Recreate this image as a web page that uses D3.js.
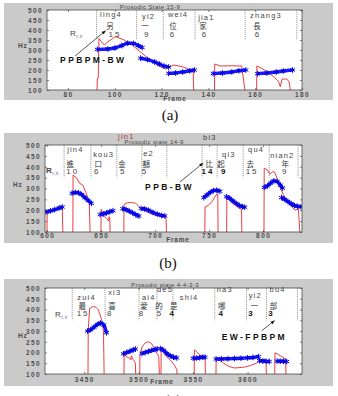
<!DOCTYPE html>
<html>
<meta charset="utf-8">
<style>
body { margin: 0; background: #fff; }
svg { display: block; }
.tick text { font-family: "Liberation Sans", Arial, sans-serif; font-size: 6.5px; font-weight: bold; fill: #4d4d4d; letter-spacing: 1.4px; }
.ttl { font-family: "Liberation Sans", Arial, sans-serif; font-size: 6px; fill: #444; letter-spacing: 0.4px; }
.axlab { font-family: "Liberation Sans", Arial, sans-serif; font-size: 6.5px; font-weight: bold; fill: #4d4d4d; letter-spacing: 0.8px; }
.py { font-family: "Liberation Sans", Arial, sans-serif; font-size: 7.5px; fill: #444; letter-spacing: 1.2px; }
.zh { font-family: "Noto Sans CJK TC", sans-serif; font-size: 7.5px; fill: #333; }
.rk { font-family: "Liberation Sans", Arial, sans-serif; font-size: 8px; fill: #444; letter-spacing: 2px; }
.rk.bold { font-weight: bold; fill: #111; }
.note { font-family: "Liberation Sans", Arial, sans-serif; font-size: 8.5px; font-weight: bold; fill: #111; letter-spacing: 2.4px; }
.cap { font-family: "Liberation Serif", "DejaVu Serif", serif; font-size: 15px; fill: #111; }
</style>
<body>
<svg width="338" height="396"></svg>
<script src="https://cdn.jsdelivr.net/npm/d3@7"></script>
<script>

var hzTicks = [100, 150, 200, 250, 300, 350, 400, 450, 500];

// ---- panel (a): Prosodic State 15-9
var aFrameTicks = [80, 100, 120, 140, 160, 180];
var aBounds = [92.2, 109.3, 120.7, 134.3, 155.7, 177.8];
var aPinyin = ["ling4", "yi2", "wei4", "jia1", "zhang3"];
var aPinyinAt = [93.7, 111.6, 122.7, 135.6, 157.8];
var aChars = ["另", "一", "位", "家", "長"];
var aCharAt = [97.9, 112.9, 124.9, 137.7, 160.8];
var aRanks = ["15", "9", "6", "6", "6"];
var aRankAt = [100.1, 113.8, 124.9, 138.5, 161.2];
var aBlue = [
  [[92.5,303],[97,305],[100,310],[103,322],[105.5,334],[108,333],[110,322],[111.7,312]],
  [[111,259],[114,252],[117,240],[119,230],[121,220],[123,215]],
  [[123,183],[126,185],[129,190],[132,196],[134,200]],
  [[142,182],[146,185],[150,190],[153,196],[156,200]],
  [[161,182],[165,185],[169,190],[172,195],[176,200]]
];
var aRed = [
  [[92.4,100],[92.5,158],[92.9,160],[93.2,358],[95.4,325],[97.5,345],[100.3,367],[104,350],[107.4,325],[111.7,283],[116,242],[119.5,217],[121.6,205],[125.2,225],[128.7,217],[132.3,200],[133.5,195],[133.7,100]],
  [[142.6,100],[142.7,230],[145,220],[150,221],[154.2,220],[155.6,100]],
  [[160.6,100],[160.7,220],[162.8,208],[165,192],[167.8,167],[170,142],[170.7,117],[171.5,155],[173.5,155],[174.5,140],[175,100]]
];

// ---- panel (b): Prosodic state 14-9
var bFrameTicks = [600, 650, 700, 750, 800];
var bBounds = [615.7, 640.5, 664.5, 687.7, 710.8, 743.5, 757.4, 781.5, 805.6, 832.4];
var bPinyin = ["jin4", "kou3", "jin1", "e2", "bi3", "qi3", "qu4", "nian2"];
var bPinyinAt = [618.5, 642.6, 665.7, 688.9, 744.4, 762, 786.1, 806.5];
var bChars = ["進", "口", "金", "額", "比", "起", "去", "年"];
var bCharAt = [621.3, 647.2, 669.4, 691.7, 750, 761.1, 788, 820.4];
var bRanks = ["10", "6", "5", "5", "14", "9", "15", "9"];
var bRankAt = [623.6, 646.3, 670.4, 690.7, 749, 763.9, 789.8, 820.4];
var bBlue = [
  [[599,192],[603,197],[607,203],[611,210],[614,215]],
  [[623,278],[626,282],[629,280],[632,272],[635,258],[638,245],[641,232]],
  [[649,180],[652,183],[655,188],[658,193],[661,198]],
  [[670,207],[673,203],[676,196],[679,188],[682,180],[685,173]],
  [[687,208],[690,206],[694,200],[698,190],[702,182],[706,176],[709,174]],
  [[745,258],[748,270],[751,282],[754,290],[757,292],[760,287]],
  [[766,262],[769,255],[772,243],[775,232],[778,222],[781,216],[783,214]],
  [[801,305],[804,312],[807,325],[810,335],[813,332],[816,315],[818,302]],
  [[817,258],[820,250],[823,240],[826,230],[829,222],[832,218],[835,216]]
];
var bRed = [
  [[599.8,100],[600,175],[601,198],[605,202],[610,208],[614,214],[614.5,100]],
  [[623.8,100],[624,362],[627.5,347],[630,324],[633,316],[636,280],[639,232],[639.8,100]],
  [[649.8,100],[650,205],[653,170],[655,163],[657,150],[657.2,170],[658,168],[658.3,100]],
  [[671,100],[671.2,226],[674,234],[678,236],[682,232],[686,212],[690,198],[695,186],[700,178],[705,172],[710,168],[710.5,100]],
  [[746,100],[746.2,215],[749,222],[752,235],[755,258],[757,274],[758,276],[758.3,100]],
  [[766.2,100],[766.4,258],[769,245],[772,232],[775,220],[778,208],[780,204],[780.3,100]],
  [[800.8,100],[801,393],[804,385],[806.5,365],[809,379],[811,372],[815,316],[818.8,270],[825,224],[829.6,201],[832.7,205],[834,100]]
];

// ---- panel (c): Prosodic state 4-4-3-3
var cFrameTicks = [3450, 3500, 3550, 3600];
var cBounds = [3439, 3469.2, 3500.3, 3516.8, 3531.4, 3569.9, 3599.1, 3617.4, 3645.8];
var cPinyin = ["zui4", "xi3", "ai4", "de5", "shi4", "na3", "yi2", "bu4"];
var cPinyinAt = [3443.6, 3472, 3503, 3516.8, 3537.8, 3571.7, 3601, 3620.2];
var cChars = ["最", "喜", "愛", "的", "是", "哪", "一", "部"];
var cCharAt = [3448.2, 3475.6, 3504.9, 3518.6, 3532.3, 3576.3, 3606.4, 3623.8];
var cRanks = ["15", "8", "8", "5", "4", "4", "3", "3"];
var cRankAt = [3449, 3473.8, 3503, 3519.5, 3531.4, 3576.3, 3603.7, 3622];
var cBlue = [
  [[3453,300],[3456,306],[3459,318],[3462,330],[3465,337],[3468,328],[3470.5,292]],
  [[3486,194],[3489,200],[3492,206],[3495,212],[3497,216]],
  [[3503,195],[3506,200],[3509,205],[3512,210],[3515,214],[3517,217]],
  [[3520,218],[3523,210],[3526,195],[3529,185],[3532,178],[3535,175]],
  [[3550,173],[3553,174],[3556,176],[3559,178],[3561,178]],
  [[3571,170],[3576,170],[3582,171],[3588,172],[3594,173],[3600,175],[3605,177],[3610,181]],
  [[3611,162],[3614,160],[3617,159],[3620,158]],
  [[3627,160],[3630,159],[3633,159],[3636,158]]
];
var cRed = [
  [[3453.5,100],[3453.7,305],[3455,405],[3458.5,415],[3461,410],[3463,398],[3466,353],[3467.7,298],[3468.3,100]],
  [[3486.5,100],[3486.7,188],[3489,180],[3492,172],[3493,165],[3493.2,185],[3495,168],[3497,150],[3497.3,100]],
  [[3501,100],[3501.2,190],[3503,225],[3506,245],[3509,250],[3512,240],[3515,215],[3517,195],[3518.5,180],[3519,100]],
  [[3520.5,100],[3520.7,225],[3522,215],[3524,190],[3527,175],[3530,160],[3533,140],[3535,120],[3535.3,100]],
  [[3551,100],[3551.2,212],[3553,205],[3556,190],[3559,182],[3561,178],[3561.3,100]],
  [[3571,100],[3571.2,172],[3574,165],[3578,150],[3583,135],[3588,128],[3593,130],[3598,133],[3603,140],[3608,150],[3613,165],[3616,170],[3617,150],[3617.3,100]],
  [[3625,100],[3625.2,198],[3627,195],[3630,185],[3633,175],[3635,172],[3635.3,100]]
];

var svg = d3.select("svg");

svg.append("defs").append("marker")
    .attr("id", "arrow")
    .attr("viewBox", "0 0 10 10")
    .attr("refX", 9).attr("refY", 5)
    .attr("markerWidth", 6).attr("markerHeight", 6)
    .attr("orient", "auto")
  .append("path")
    .attr("d", "M0,1L10,5L0,9z")
    .attr("fill", "#111");

var panels = [
  { domain: [71, 180], ticks: aFrameTicks, bounds: aBounds, blue: aBlue, red: aRed,
    pinyin: aPinyin, pinyinAt: aPinyinAt, chars: aChars, charAt: aCharAt, ranks: aRanks, rankAt: aRankAt,
    title: "Prosodic State 15-9", note: "PPBPM-BW", noteAt: [76.6, 235], arrow: [[83, 270], [96, 396]], caption: "(a)",
    box: [4, 3, 333, 100], plot: [47, 10, 302, 90],
    titleX: 150, titleY: 9, pinyinY: [17, 19, 17, 20, 18], charY: 29, rankY: 37, bold: [],
    rX: 70, rY: 36, hzX: 18, hzY: 48, frameX: 175, frameY: 101, tickY: 97, capX: 170, capY: 120 },
  { domain: [598, 836], ticks: bFrameTicks, bounds: bBounds, blue: bBlue, red: bRed,
    pinyin: bPinyin, pinyinAt: bPinyinAt, chars: bChars, charAt: bCharAt, ranks: bRanks, rankAt: bRankAt,
    title: "Prosodic state 14-9", note: "PPB-BW", noteAt: [690.7, 293], arrow: [[723, 330], [744.4, 417]], caption: "(b)",
    box: [4, 133, 333, 243], plot: [45, 145, 302, 232],
    titleX: 154, titleY: 143.5, pinyinY: [152, 157, 139, 156, 140, 157, 152, 158], charY: 167, rankY: 174, bold: [4, 5],
    rX: 46, rY: 173, hzX: 13, hzY: 187, frameX: 178, frameY: 242, tickY: 238, capX: 168, capY: 268 },
  { domain: [3414, 3650], ticks: cFrameTicks, bounds: cBounds, blue: cBlue, red: cRed,
    pinyin: cPinyin, pinyinAt: cPinyinAt, chars: cChars, charAt: cCharAt, ranks: cRanks, rankAt: cRankAt,
    title: "Prosodic state 4-4-3-3", note: "EW-FPBPM", noteAt: [3576.3, 256], arrow: [[3612.9, 301], [3624.7, 348]], caption: "(c)",
    box: [4, 279, 333, 386], plot: [45, 288, 302, 374],
    titleX: 165, titleY: 287, pinyinY: [300, 295, 300, 292, 300, 292, 298, 292], charY: 308.5, rankY: 315.5, bold: [4, 5, 6, 7],
    rX: 55, rY: 317, hzX: 18, hzY: 338, frameX: 162, frameY: 384, tickY: 382, capX: 173, capY: 405 }
];

var blueSymbol = d3.symbol().type(d3.symbolAsterisk || d3.symbolCross).size(22);

panels.forEach(function(p, i) {
  var g = svg.append("g");
  var L = p.plot[0], T = p.plot[1], R = p.plot[2], B = p.plot[3];

  g.append("rect")
      .attr("x", p.box[0]).attr("y", p.box[1])
      .attr("width", p.box[2] - p.box[0]).attr("height", p.box[3] - p.box[1])
      .attr("fill", "#cacaca");
  g.append("rect")
      .attr("x", L).attr("y", T).attr("width", R - L).attr("height", B - T)
      .attr("fill", "#fff");

  var x = d3.scaleLinear().domain(p.domain).range([L, R]);
  var y = d3.scaleLinear().domain([100, 500]).range([B, T]);

  g.append("clipPath").attr("id", "clip" + i)
    .append("rect").attr("x", L).attr("y", T).attr("width", R - L).attr("height", B - T);

  // syllable boundaries
  g.selectAll(".bnd").data(p.bounds).enter().append("line")
      .attr("x1", function(d) { return x(d); })
      .attr("x2", function(d) { return x(d); })
      .attr("y1", y(500))
      .attr("y2", y(350))
      .attr("stroke", "#777")
      .attr("stroke-width", 0.7)
      .attr("stroke-dasharray", "1.2,0.8");

  var line = d3.line().x(function(d) { return x(d[0]); }).y(function(d) { return y(d[1]); });
  var plotG = g.append("g").attr("clip-path", "url(#clip" + i + ")");

  plotG.selectAll(".red").data(p.red).enter().append("path")
      .attr("d", line)
      .attr("fill", "none")
      .attr("stroke", "#e8262b")
      .attr("stroke-width", 0.9);

  var smooth = d3.line().curve(d3.curveMonotoneX)
      .x(function(d) { return x(d[0]); }).y(function(d) { return y(d[1]); });
  plotG.selectAll(".blue").data(p.blue).enter().append("path")
      .attr("d", smooth)
      .attr("fill", "none")
      .attr("stroke", "#1a1aff")
      .attr("stroke-width", 3.4);
  p.blue.forEach(function(seg) {
    plotG.selectAll(null).data(seg).enter().append("path")
        .attr("d", blueSymbol)
        .attr("transform", function(d) { return "translate(" + x(d[0]) + "," + y(d[1]) + ")"; })
        .attr("fill", "none")
        .attr("stroke", "#0000e0")
        .attr("stroke-width", 1);
  });

  // axes, MATLAB style with inward ticks
  var yl = g.append("g").attr("transform", "translate(" + L + ",0)")
      .call(d3.axisLeft(y).tickValues(hzTicks).tickSize(-2).tickPadding(4));
  var yr = g.append("g").attr("transform", "translate(" + R + ",0)")
      .call(d3.axisRight(y).tickValues(hzTicks).tickSize(-2).tickFormat(""));
  var xb = g.append("g").attr("transform", "translate(0," + B + ")")
      .call(d3.axisBottom(x).tickValues(p.ticks).tickSize(-2).tickPadding(3).tickFormat(d3.format("d")));
  var xt = g.append("g").attr("transform", "translate(0," + T + ")")
      .call(d3.axisTop(x).tickValues(p.ticks).tickSize(-2).tickFormat(""));
  [yl, yr, xb, xt].forEach(function(a) {
    a.attr("font-size", null).attr("font-family", null);
    a.select(".domain").remove();
    a.selectAll(".tick line").attr("stroke", "#333").attr("stroke-width", 0.6);
  });
  xb.selectAll(".tick text").attr("y", p.tickY - B).attr("dy", 0);
  yl.selectAll(".tick text").attr("dy", "0.35em");

  g.append("rect")
      .attr("x", L).attr("y", T).attr("width", R - L).attr("height", B - T)
      .attr("fill", "none").attr("stroke", "#333").attr("stroke-width", 0.7);

  g.append("text").attr("class", "ttl").attr("x", p.titleX).attr("y", p.titleY)
      .attr("text-anchor", "middle").text(p.title);
  g.append("text").attr("class", "axlab").attr("x", p.hzX).attr("y", p.hzY).text("Hz");
  g.append("text").attr("class", "axlab").attr("x", p.frameX).attr("y", p.frameY)
      .attr("text-anchor", "middle").text("Frame");

  // syllable labels
  g.selectAll(".py").data(p.pinyin).enter().append("text")
      .attr("class", "py")
      .attr("x", function(d, j) { return x(p.pinyinAt[j]); })
      .attr("y", function(d, j) { return p.pinyinY[j]; })
      .style("fill", function(d) { return d === "jin1" ? "#b03a3a" : null; })
      .text(function(d) { return d; });
  g.selectAll(".zh").data(p.chars).enter().append("text")
      .attr("class", "zh")
      .attr("x", function(d, j) { return x(p.charAt[j]); })
      .attr("y", p.charY)
      .attr("text-anchor", "middle")
      .text(function(d) { return d; });
  g.selectAll(".rk").data(p.ranks).enter().append("text")
      .attr("class", function(d, j) { return p.bold.indexOf(j) >= 0 ? "rk bold" : "rk"; })
      .attr("x", function(d, j) { return x(p.rankAt[j]); })
      .attr("y", p.rankY)
      .attr("text-anchor", "middle")
      .text(function(d) { return d; });

  var rt = g.append("text").attr("class", "rk").attr("x", p.rX).attr("y", p.rY)
      .style("letter-spacing", "0.5px");
  rt.append("tspan").text("R").style("font-weight", i === 1 ? "bold" : null);
  rt.append("tspan").attr("dy", 1.5).style("font-size", "4.5px").style("fill", "#5a5a9a").text("t,n");

  // annotation
  g.append("text").attr("class", "note")
      .attr("x", x(p.noteAt[0])).attr("y", y(p.noteAt[1]))
      .text(p.note);
  g.append("line")
      .attr("x1", x(p.arrow[0][0])).attr("y1", y(p.arrow[0][1]))
      .attr("x2", x(p.arrow[1][0])).attr("y2", y(p.arrow[1][1]))
      .attr("stroke", "#111").attr("stroke-width", 0.7)
      .attr("marker-end", "url(#arrow)");

  svg.append("text").attr("class", "cap").attr("x", p.capX).attr("y", p.capY)
      .attr("text-anchor", "middle").text(p.caption);
});

</script>
</body>
</html>
